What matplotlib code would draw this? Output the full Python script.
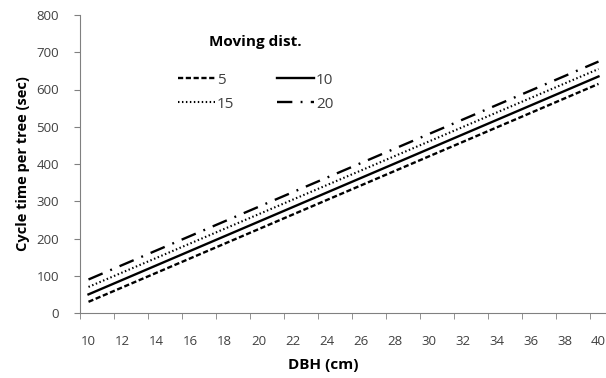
import matplotlib
matplotlib.use("Agg")
import matplotlib.pyplot as plt

dbh = [10, 12, 14, 16, 18, 20, 22, 24, 26, 28, 30, 32, 34, 36, 38, 40]
d5  = [30, 69, 108, 147, 186, 225, 264, 303, 342, 381, 420, 459, 498, 537, 576, 615]
d10 = [50, 89, 128, 167, 206, 245, 284, 323, 362, 401, 440, 479, 518, 557, 596, 635]
d15 = [70, 109, 148, 187, 226, 265, 304, 343, 382, 421, 460, 499, 538, 577, 616, 655]
d20 = [90, 129, 168, 207, 246, 285, 324, 363, 402, 441, 480, 519, 558, 597, 636, 675]
yticks = [0, 100, 200, 300, 400, 500, 600, 700, 800]

plt.rcParams['font.family'] = ['Open Sans', 'DejaVu Sans']

W, H = 606, 378
fig = plt.figure(figsize=(W / 100, H / 100), dpi=100)
ax = fig.add_axes([80 / W, 65 / H, 527 / W, 298 / H])

lw = 1.7
h5, = ax.plot(dbh, d5, color='black', lw=lw, linestyle=(0, (2.2, 1.1)), label='5')
h10, = ax.plot(dbh, d10, color='black', lw=lw, linestyle='-', label='10')
h15, = ax.plot(dbh, d15, color='black', lw=1.5, linestyle=(0, (0.7, 1.2)), label='15')
h20, = ax.plot(dbh, d20, color='black', lw=lw, linestyle=(0, (6.5, 3.5, 0.8, 3.5)), label='20')

ax.set_xlim(9.5, 40.5)
ax.set_ylim(0, 800)
ax.set_yticks(yticks)
ax.set_xticks(dbh)
ax.set_xticks([9.5 + 2 * i for i in range(16)], minor=True)
ax.tick_params(axis='x', which='major', length=0, pad=16, labelsize=9.5, labelcolor='#404040')
ax.tick_params(axis='x', which='minor', length=4, color='#808080', direction='out')
ax.tick_params(axis='y', length=4, color='#808080', labelsize=9.5, labelcolor='#404040', pad=11)

for s in ['top', 'right']:
    ax.spines[s].set_visible(False)
for s in ['left', 'bottom']:
    ax.spines[s].set_color('#808080')
    ax.spines[s].set_linewidth(0.8)

ax.set_ylabel('Cycle time per tree (sec)', fontsize=10.5, fontweight='bold', labelpad=5)
fig.text(323 / W, 1 - 365 / H, 'DBH (cm)', fontsize=11, fontweight='bold',
         ha='center', va='center')

leg = ax.legend([h5, h15, h10, h20], ['5', '15', '10', '20'],
                ncol=2, frameon=False, title='Moving dist.',
                title_fontproperties={'weight': 'bold', 'size': 11},
                prop={'size': 11},
                loc='upper left', bbox_to_anchor=(178 / W, 1 - 35 / H),
                bbox_transform=fig.transFigure, borderaxespad=0, borderpad=0,
                handlelength=2.4, handletextpad=0.15, columnspacing=2.8,
                labelspacing=0.6)
leg._legend_box.sep = 17
for t in leg.get_texts():
    t.set_color('#404040')

fig.savefig('out.png', dpi=100)
